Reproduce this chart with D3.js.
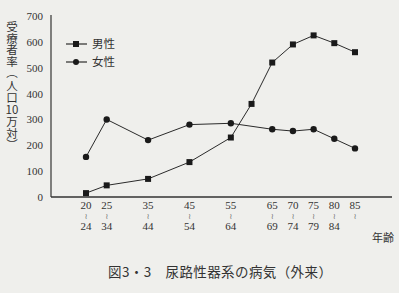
<!DOCTYPE html>
<html>
<head>
<meta charset="utf-8">
<script src="https://cdn.jsdelivr.net/npm/d3@7.9.0/dist/d3.min.js"></script>
<style>
  html, body { margin: 0; padding: 0; background: #efefec; }
  svg { display: block; }
  .num { font-family: "Liberation Serif", "DejaVu Serif", serif; fill: #333; }
  .jp { font-family: "Noto Sans CJK JP", sans-serif; fill: #333; }
</style>
</head>
<body>
<div id="chart"></div>
<script>
// age groups (lower bound of each group)
const maleAges = [20, 25, 35, 45, 55, 60, 65, 70, 75, 80, 85];
const maleRate = [15, 45, 70, 135, 230, 360, 520, 590, 625, 595, 560];
const femaleAges = [20, 25, 35, 45, 55, 65, 70, 75, 80, 85];
const femaleRate = [155, 300, 220, 280, 285, 262, 255, 262, 225, 188];

const tickFrom = [20, 25, 35, 45, 55, 65, 70, 75, 80, 85];
const tickTo = ['24', '34', '44', '54', '64', '69', '74', '79', '84', ''];
const yTicks = [0, 100, 200, 300, 400, 500, 600, 700];

const width = 399;
const height = 293;

const svg = d3.select('#chart')
  .append('svg')
  .attr('width', width)
  .attr('height', height);

const area = { left: 51, right: 392, top: 15, bottom: 197 };

const xScale = d3.scaleLinear().domain([20, 85]).range([86, 355]);
const yScale = d3.scaleLinear().domain([0, 700]).range([area.bottom, 16]);

// y axis labels
const yAxis = d3.axisLeft(yScale).tickValues(yTicks).tickSize(0).tickPadding(8);
const yg = svg.append('g')
  .attr('transform', `translate(${area.left}, 0)`)
  .call(yAxis);
yg.select('.domain').remove();
yg.selectAll('text')
  .attr('class', 'num')
  .style('font-size', '11px');

// axis lines
svg.append('line')
  .attr('x1', area.left).attr('x2', area.left)
  .attr('y1', area.top).attr('y2', area.bottom)
  .attr('stroke', '#333').attr('stroke-width', 1.2);
svg.append('line')
  .attr('x1', area.left).attr('x2', area.right)
  .attr('y1', area.bottom).attr('y2', area.bottom)
  .attr('stroke', '#333').attr('stroke-width', 1.4);

// x tick labels (two lines with a vertical wave between)
const xt = svg.append('g').selectAll('g')
  .data(tickFrom)
  .join('g')
  .attr('transform', (d) => `translate(${xScale(d)}, 0)`);
xt.append('text')
  .attr('class', 'num')
  .attr('y', 209)
  .attr('text-anchor', 'middle')
  .style('font-size', '11px')
  .text((d) => d);
xt.append('text')
  .attr('y', 219)
  .attr('text-anchor', 'middle')
  .style('font-family', '"DejaVu Sans", sans-serif')
  .style('font-size', '8px')
  .style('fill', '#777')
  .text('≀');
xt.append('text')
  .attr('class', 'num')
  .attr('y', 230)
  .attr('text-anchor', 'middle')
  .style('font-size', '11px')
  .text((d, i) => tickTo[i]);

svg.append('text')
  .attr('class', 'jp')
  .attr('x', 394)
  .attr('y', 242)
  .attr('text-anchor', 'end')
  .style('font-size', '11px')
  .text('年齢');

// y axis title, vertical
const yTitle = svg.append('g').attr('class', 'jp').style('font-size', '11.5px');
yTitle.append('text')
  .attr('x', 12).attr('y', 21)
  .style('writing-mode', 'vertical-rl')
  .style('text-orientation', 'upright')
  .text('受療者率');
yTitle.append('text')
  .attr('x', 12).attr('y', 67)
  .style('writing-mode', 'vertical-rl')
  .text('（');
yTitle.append('text')
  .attr('x', 12).attr('y', 80)
  .style('writing-mode', 'vertical-rl')
  .style('text-orientation', 'upright')
  .text('人口');
yTitle.append('text')
  .attr('x', 12).attr('y', 114)
  .attr('text-anchor', 'middle')
  .text('10');
yTitle.append('text')
  .attr('x', 12).attr('y', 116)
  .style('writing-mode', 'vertical-rl')
  .style('text-orientation', 'upright')
  .text('万対');
yTitle.append('text')
  .attr('x', 12).attr('y', 139)
  .style('writing-mode', 'vertical-rl')
  .text('）');

// lines
const line = d3.line()
  .x((d) => xScale(d[0]))
  .y((d) => yScale(d[1]));

const male = d3.zip(maleAges, maleRate);
const female = d3.zip(femaleAges, femaleRate);

svg.append('path')
  .datum(female)
  .attr('d', line)
  .attr('fill', 'none')
  .attr('stroke', '#2a2a2a')
  .attr('stroke-width', 1);
svg.append('path')
  .datum(male)
  .attr('d', line)
  .attr('fill', 'none')
  .attr('stroke', '#2a2a2a')
  .attr('stroke-width', 1);

svg.append('g').selectAll('circle')
  .data(female)
  .join('circle')
  .attr('cx', (d) => xScale(d[0]))
  .attr('cy', (d) => yScale(d[1]))
  .attr('r', 3.2)
  .attr('fill', '#1a1a1a');

svg.append('g').selectAll('rect')
  .data(male)
  .join('rect')
  .attr('x', (d) => xScale(d[0]) - 3)
  .attr('y', (d) => yScale(d[1]) - 3)
  .attr('width', 6)
  .attr('height', 6)
  .attr('fill', '#1a1a1a');

// legend
const legend = svg.append('g');
const items = [
  { name: '男性', shape: 'square', y: 44 },
  { name: '女性', shape: 'circle', y: 62 },
];
items.forEach((it) => {
  legend.append('line')
    .attr('x1', 66).attr('x2', 87)
    .attr('y1', it.y).attr('y2', it.y)
    .attr('stroke', '#2a2a2a').attr('stroke-width', 1.2);
  if (it.shape === 'square') {
    legend.append('rect')
      .attr('x', 73).attr('y', it.y - 3)
      .attr('width', 6).attr('height', 6)
      .attr('fill', '#1a1a1a');
  } else {
    legend.append('circle')
      .attr('cx', 76).attr('cy', it.y).attr('r', 3)
      .attr('fill', '#1a1a1a');
  }
  legend.append('text')
    .attr('class', 'jp')
    .attr('x', 92).attr('y', it.y + 4)
    .style('font-size', '11.5px')
    .text(it.name);
});

// caption
svg.append('text')
  .attr('class', 'jp')
  .attr('x', 108)
  .attr('y', 277)
  .style('font-size', '13.5px')
  .style('letter-spacing', '0.4px')
  .text('図3・3\u3000尿路性器系の病気（外来）');
</script>
</body>
</html>
